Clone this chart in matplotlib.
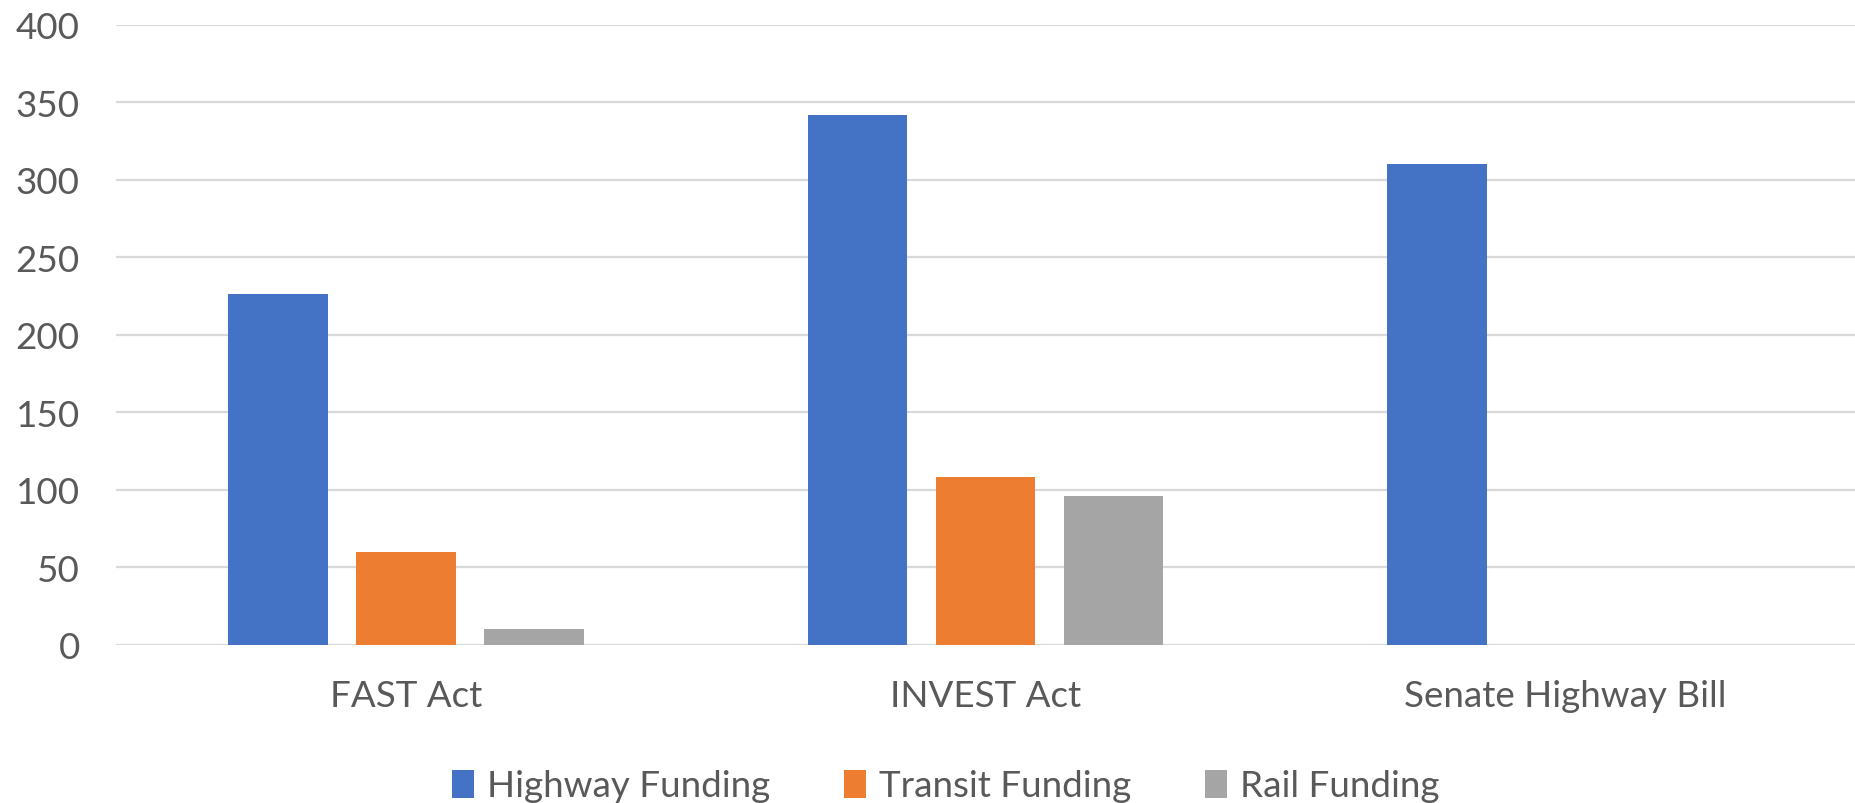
import numpy as np
import matplotlib
matplotlib.use('Agg')
import matplotlib.pyplot as plt

plt.rcParams['font.family'] = ['Lato', 'DejaVu Sans']

# Funding by bill (billions of dollars)
BILLS   = ['FAST Act', 'INVEST Act', 'Senate Highway Bill']
SERIES  = ['Highway Funding', 'Transit Funding', 'Rail Funding']
HIGHWAY = [226, 342, 310]
TRANSIT = [60, 108, 0]
RAIL    = [10, 96, 0]
YTICKS  = [0, 50, 100, 150, 200, 250, 300, 350, 400]

COLORS = ['#4472C4', '#ED7D31', '#A5A5A5']
TEXT_C = '#595959'
GRID_C = '#D9D9D9'
FS = 26.5

fig = plt.figure(figsize=(18.55, 8.04), dpi=100)
ax = fig.add_axes([0.0625, 0.197, 0.9375, 0.771])

x = np.arange(len(BILLS))
w = 0.172
step = 0.221
for i, (name, vals) in enumerate(zip(SERIES, [HIGHWAY, TRANSIT, RAIL])):
    ax.bar(x + (i - 1) * step, vals, width=w, color=COLORS[i], label=name, zorder=3)

ax.set_xlim(-0.5, len(BILLS) - 0.5)
ax.set_ylim(0, 400)
ax.set_yticks(YTICKS)
ax.set_xticks(x)
ax.set_xticklabels(BILLS)
ax.yaxis.grid(True, color=GRID_C, lw=1.6, zorder=0)
for s in ax.spines.values():
    s.set_visible(False)
ax.tick_params(axis='both', length=0, labelsize=FS, colors=TEXT_C)
ax.tick_params(axis='y', pad=26)
ax.tick_params(axis='x', pad=25)

ax.legend(loc='center', bbox_to_anchor=(0.477, -0.228), ncol=3, frameon=False,
          fontsize=FS, labelcolor=TEXT_C, handlelength=0.6, handleheight=0.8,
          handletextpad=0.35, columnspacing=2.0)

fig.savefig('out.png', dpi=100, facecolor='white')
